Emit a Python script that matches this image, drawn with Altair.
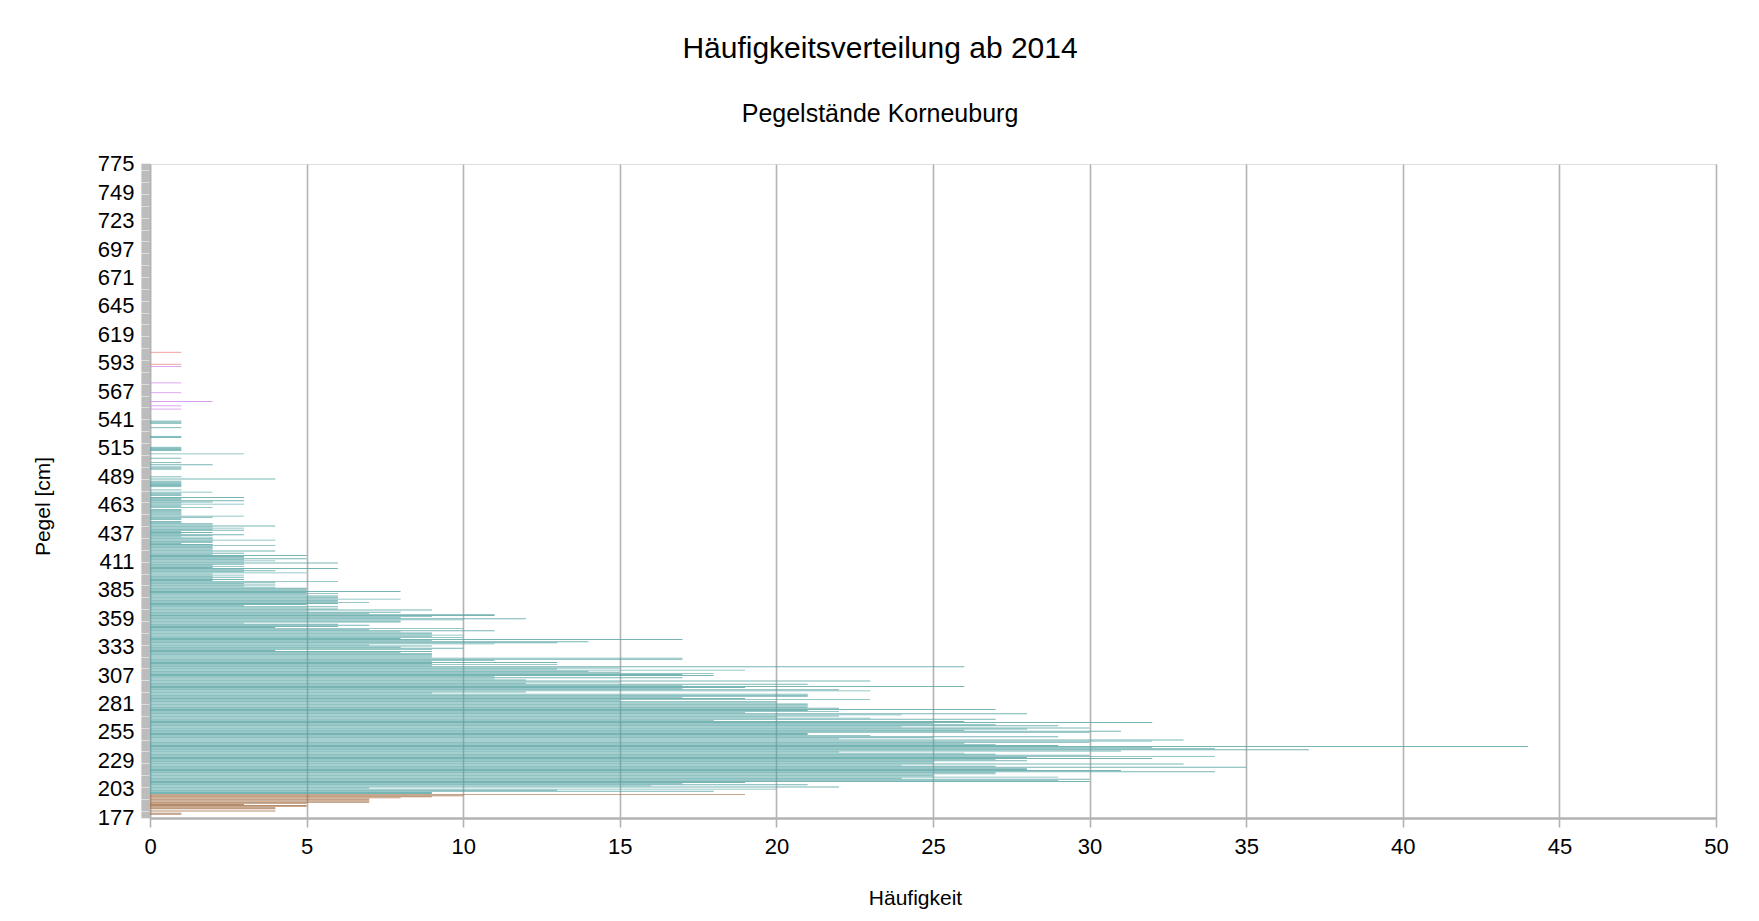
import altair as alt
import pandas as pd

title_text = "Häufigkeitsverteilung ab 2014"
subtitle_text = "Pegelstände Korneuburg"
x_title = "Häufigkeit"
y_title = "Pegel [cm]"

pegel_min = 177
pegel_max = 775
label_step = 26
x_ticks = [0, 5, 10, 15, 20, 25, 30, 35, 40, 45, 50]

# counts per Pegel (cm), consecutive levels starting at *_start
brown_start = 177
brown_counts = [0, 0, 0, 1, 1, 0, 4, 0, 4, 4,
                5, 5, 3, 5, 7, 7, 7, 7, 8, 9,
                10, 19]

teal_start = 199
teal_counts = [
    9, 9, 18, 13, 20, 7, 22, 16, 21, 17,      # 199-208
    19, 30, 29, 30, 24, 29, 25, 25, 27, 27,   # 209-218
    34, 31, 28, 28, 35, 27, 24, 33, 25, 25,   # 219-228
    28, 27, 32, 28, 34, 30, 27, 26, 22, 31,   # 229-238
    37, 34, 32, 44, 29, 27, 26, 30, 32, 33,   # 239-248
    22, 25, 29, 23, 21, 21, 30, 31, 26, 28,   # 249-258
    30, 24, 29, 27, 25, 32, 26, 18, 27, 23,   # 259-268
    20, 22, 24, 28, 19, 22, 21, 27, 22, 21,   # 269-278
    21, 21, 21, 20, 20, 15, 23, 19, 17, 21,   # 279-288
    21, 21, 9, 12, 23, 22, 17, 19, 26, 17,    # 289-298
    21, 12, 15, 23, 12, 11, 17, 11, 18, 17,   # 299-308
    18, 15, 14, 19, 13, 15, 26, 9, 13, 9,     # 309-318
    13, 9, 11, 17, 17, 9, 9, 9, 9, 8,         # 319-328
    9, 4, 9, 10, 8, 9, 7, 11, 13, 14,         # 329-338
    9, 17, 8, 10, 9, 10, 9, 9, 8, 11,         # 339-348
    7, 10, 4, 6, 7, 6, 3, 8, 8, 10,           # 349-358
    12, 8, 9, 11, 11, 7, 8, 5, 9, 6,          # 359-368
    5, 6, 3, 5, 6, 7, 6, 6, 8, 6,             # 369-378
    6, 6, 5, 6, 5, 8, 5, 5, 5, 4,             # 379-388
    3, 4, 3, 4, 6, 2, 3, 2, 3, 2,             # 389-398
    3, 2, 5, 3, 4, 3, 6, 2, 3, 2,             # 399-408
    3, 6, 3, 4, 3, 5, 3, 3, 5, 2,             # 409-418
    3, 2, 4, 2, 2, 2, 2, 4, 2, 1,             # 419-428
    2, 2, 4, 2, 2, 1, 2, 3, 1, 2,             # 429-438
    1, 3, 2, 3, 2, 4, 2, 2, 1, 1,             # 439-448
    0, 1, 1, 2, 3, 1, 1, 1, 1, 1,             # 449-458
    1, 0, 2, 1, 1, 3, 1, 2, 3, 1,             # 459-468
    1, 3, 0, 1, 1, 1, 2, 0, 1, 0,             # 469-478
    0, 1, 1, 1, 1, 1, 1, 0, 4, 0,             # 479-488
    1, 0, 0, 0, 0, 0, 0, 1, 1, 1,             # 489-498
    0, 2, 0, 1, 0, 0, 0, 1, 0, 0,             # 499-508
    0, 3, 0, 0, 1, 1, 1, 1, 0, 0,             # 509-518
    0, 0, 0, 0, 0, 0, 1, 1, 0, 0,             # 519-528
    0, 0, 0, 0, 0, 1, 0, 0, 0, 1,             # 529-538
    1, 1,                                     # 539-540
]

purple_start = 550
purple_counts = [0, 1, 0, 0, 1, 0, 0, 0, 2, 0,   # 550-559
                 0, 0, 0, 0, 0, 0, 1, 0, 0, 0,   # 560-569
                 0, 0, 0, 0, 0, 1, 0, 0, 0, 0,   # 570-579
                 0, 0, 0, 0, 0, 0, 0, 0, 0, 0,   # 580-589
                 1]                              # 590

red_start = 591
red_counts = [0, 1, 0, 0, 0, 0, 0, 0, 0, 0, 0, 0, 1]  # 591-603

series_names = ["braun", "türkis", "violett", "rot"]
series_colors = ["#a26e45", "#55a2a2", "#cf88ec", "#ec8181"]

rows = []
for name, start, counts in [
    (series_names[0], brown_start, brown_counts),
    (series_names[1], teal_start, teal_counts),
    (series_names[2], purple_start, purple_counts),
    (series_names[3], red_start, red_counts),
]:
    for i, c in enumerate(counts):
        if c > 0:
            rows.append({"Pegel": start + i, "freq": c, "Reihe": name})
df = pd.DataFrame(rows)

levels = list(range(pegel_max, pegel_min - 1, -1))
grid_gray = "#b3b3b3"
font = "Liberation Sans"

chart = alt.Chart(df).mark_bar(opacity=0.8).encode(
    x=alt.X(
        "freq:Q",
        scale=alt.Scale(domain=[0, 50], nice=False, zero=True),
        axis=alt.Axis(
            values=x_ticks, format="d", title=x_title,
            labelFont=font, labelFontSize=22, labelColor="#000000",
            labelPadding=9, labelFlush=False,
            tickSize=9, tickColor=grid_gray, tickWidth=1.6,
            grid=True, gridColor=grid_gray, gridWidth=1.6,
            domainColor=grid_gray, domainWidth=2.5,
            titleFont=font, titleFontSize=21, titleFontWeight="normal",
            titleColor="#000000", titlePadding=30, titleX=765,
        ),
    ),
    y=alt.Y(
        "Pegel:O",
        scale=alt.Scale(domain=levels, paddingInner=0.15, paddingOuter=0),
        axis=alt.Axis(
            title=y_title,
            labelExpr=f"(datum.value - {pegel_min}) % {label_step} == 0 ? datum.label : ''",
            labelOverlap=False, labelFont=font, labelFontSize=22,
            labelColor="#000000", labelPadding=7,
            tickSize=9, tickColor="#bcbcbc", tickWidth=1.6,
            domainColor=grid_gray, domainWidth=1.5, grid=False,
            titleFont=font, titleFontSize=21, titleFontWeight="normal",
            titleColor="#000000", titlePadding=44, titleY=342,
        ),
    ),
    color=alt.Color(
        "Reihe:N",
        scale=alt.Scale(domain=series_names, range=series_colors),
        legend=None,
    ),
).properties(
    width=1566,
    height=654,
    autosize=alt.AutoSizeParams(type="none"),
    padding={"left": 142, "top": 156, "right": 35, "bottom": 95},
    title=alt.TitleParams(
        text=title_text, subtitle=subtitle_text,
        font=font, fontSize=30, fontWeight="normal", color="#000000",
        subtitleFont=font, subtitleFontSize=25, subtitleColor="#000000",
        anchor="middle", dx=-53, offset=26, subtitlePadding=38,
    ),
).configure_view(
    stroke=grid_gray, strokeWidth=1.5
).configure(background="#ffffff")

chart.save("out.html", embed_options={"renderer": "svg", "actions": False})
